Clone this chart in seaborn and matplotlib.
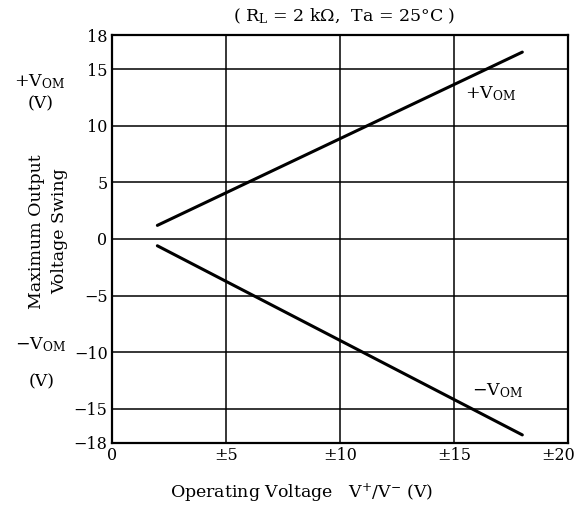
import matplotlib
matplotlib.use("Agg")
import matplotlib.pyplot as plt
import matplotlib.transforms as mtransforms
import seaborn as sns
import pandas as pd

# values (operating voltage vs max output swing)
supply_v = [2, 18]
pos_vom = [1.2, 16.5]
neg_vom = [-0.6, -17.3]

x_ticks = [0, 5, 10, 15, 20]
x_labels = ["0", "±5", "±10", "±15", "±20"]
y_ticks = [18, 15, 10, 5, 0, -5, -10, -15, -18]
y_labels = ["18", "15", "10", "5", "0", "−5", "−10", "−15", "−18"]

df = pd.DataFrame({
    "supply": supply_v + supply_v,
    "vom": pos_vom + neg_vom,
    "curve": ["+VOM"] * 2 + ["-VOM"] * 2,
})

sns.set_style("white")
plt.rcParams["font.family"] = ["DejaVu Serif"]
plt.rcParams["mathtext.fontset"] = "custom"
plt.rcParams["mathtext.rm"] = "DejaVu Serif"
plt.rcParams["mathtext.it"] = "DejaVu Serif:italic"
plt.rcParams["text.color"] = "black"
plt.rcParams["xtick.color"] = "black"
plt.rcParams["ytick.color"] = "black"
plt.rcParams["axes.labelcolor"] = "black"

fig = plt.figure(figsize=(5.76, 5.09), dpi=100)
ax = fig.add_axes([0.194, 0.130, 0.792, 0.801])

sns.lineplot(data=df, x="supply", y="vom", units="curve", estimator=None,
             color="black", linewidth=2.2, ax=ax)

# grid
for gx in [5, 10, 15]:
    ax.axvline(gx, color="black", linewidth=1.1)
for gy in [15, 10, 5, 0, -5, -10, -15]:
    ax.axhline(gy, color="black", linewidth=1.1)

ax.set_xlim(0, 20)
ax.set_ylim(-18, 18)
ax.set_xticks(x_ticks)
ax.set_xticklabels(x_labels, fontsize=11.5, color="black")
ax.set_yticks(y_ticks)
ax.set_yticklabels(y_labels, fontsize=11.5, color="black")
ax.tick_params(length=0, pad=3)
for s in ax.spines.values():
    s.set_linewidth(1.6)
    s.set_color("black")

# last x label sits flush with the right edge like in the datasheet
last = ax.get_xticklabels()[-1]
last.set_horizontalalignment("right")
last.set_transform(last.get_transform() + mtransforms.ScaledTranslation(0.07, 0, fig.dpi_scale_trans))

ax.set_xlabel("")
ax.set_ylabel("")
fig.text(0.524, 0.032, "Operating Voltage   V$^{+}$/V$^{-}$ (V)", fontsize=12.5,
         ha="center", va="center")
fig.text(0.598, 0.968, "( R$_{\\rm L}$ = 2 kΩ,  Ta = 25°C )", fontsize=12.5,
         ha="center", va="center")

ax.text(15.5, 12.8, "+V$_{\\rm OM}$", fontsize=12.5, va="center")
ax.text(15.8, -13.4, "−V$_{\\rm OM}$", fontsize=12.5, va="center")

# left-side axis description
fig.text(0.068, 0.840, "+V$_{\\rm OM}$", fontsize=12.5, ha="center", va="center")
fig.text(0.070, 0.795, "(V)", fontsize=12.5, ha="center", va="center")
fig.text(0.084, 0.545, "Maximum Output\nVoltage Swing", fontsize=12.5, ha="center",
         va="center", rotation=90, linespacing=1.5)
fig.text(0.070, 0.322, "−V$_{\\rm OM}$", fontsize=12.5, ha="center", va="center")
fig.text(0.072, 0.250, "(V)", fontsize=12.5, ha="center", va="center")

fig.savefig("out.png", dpi=100)
